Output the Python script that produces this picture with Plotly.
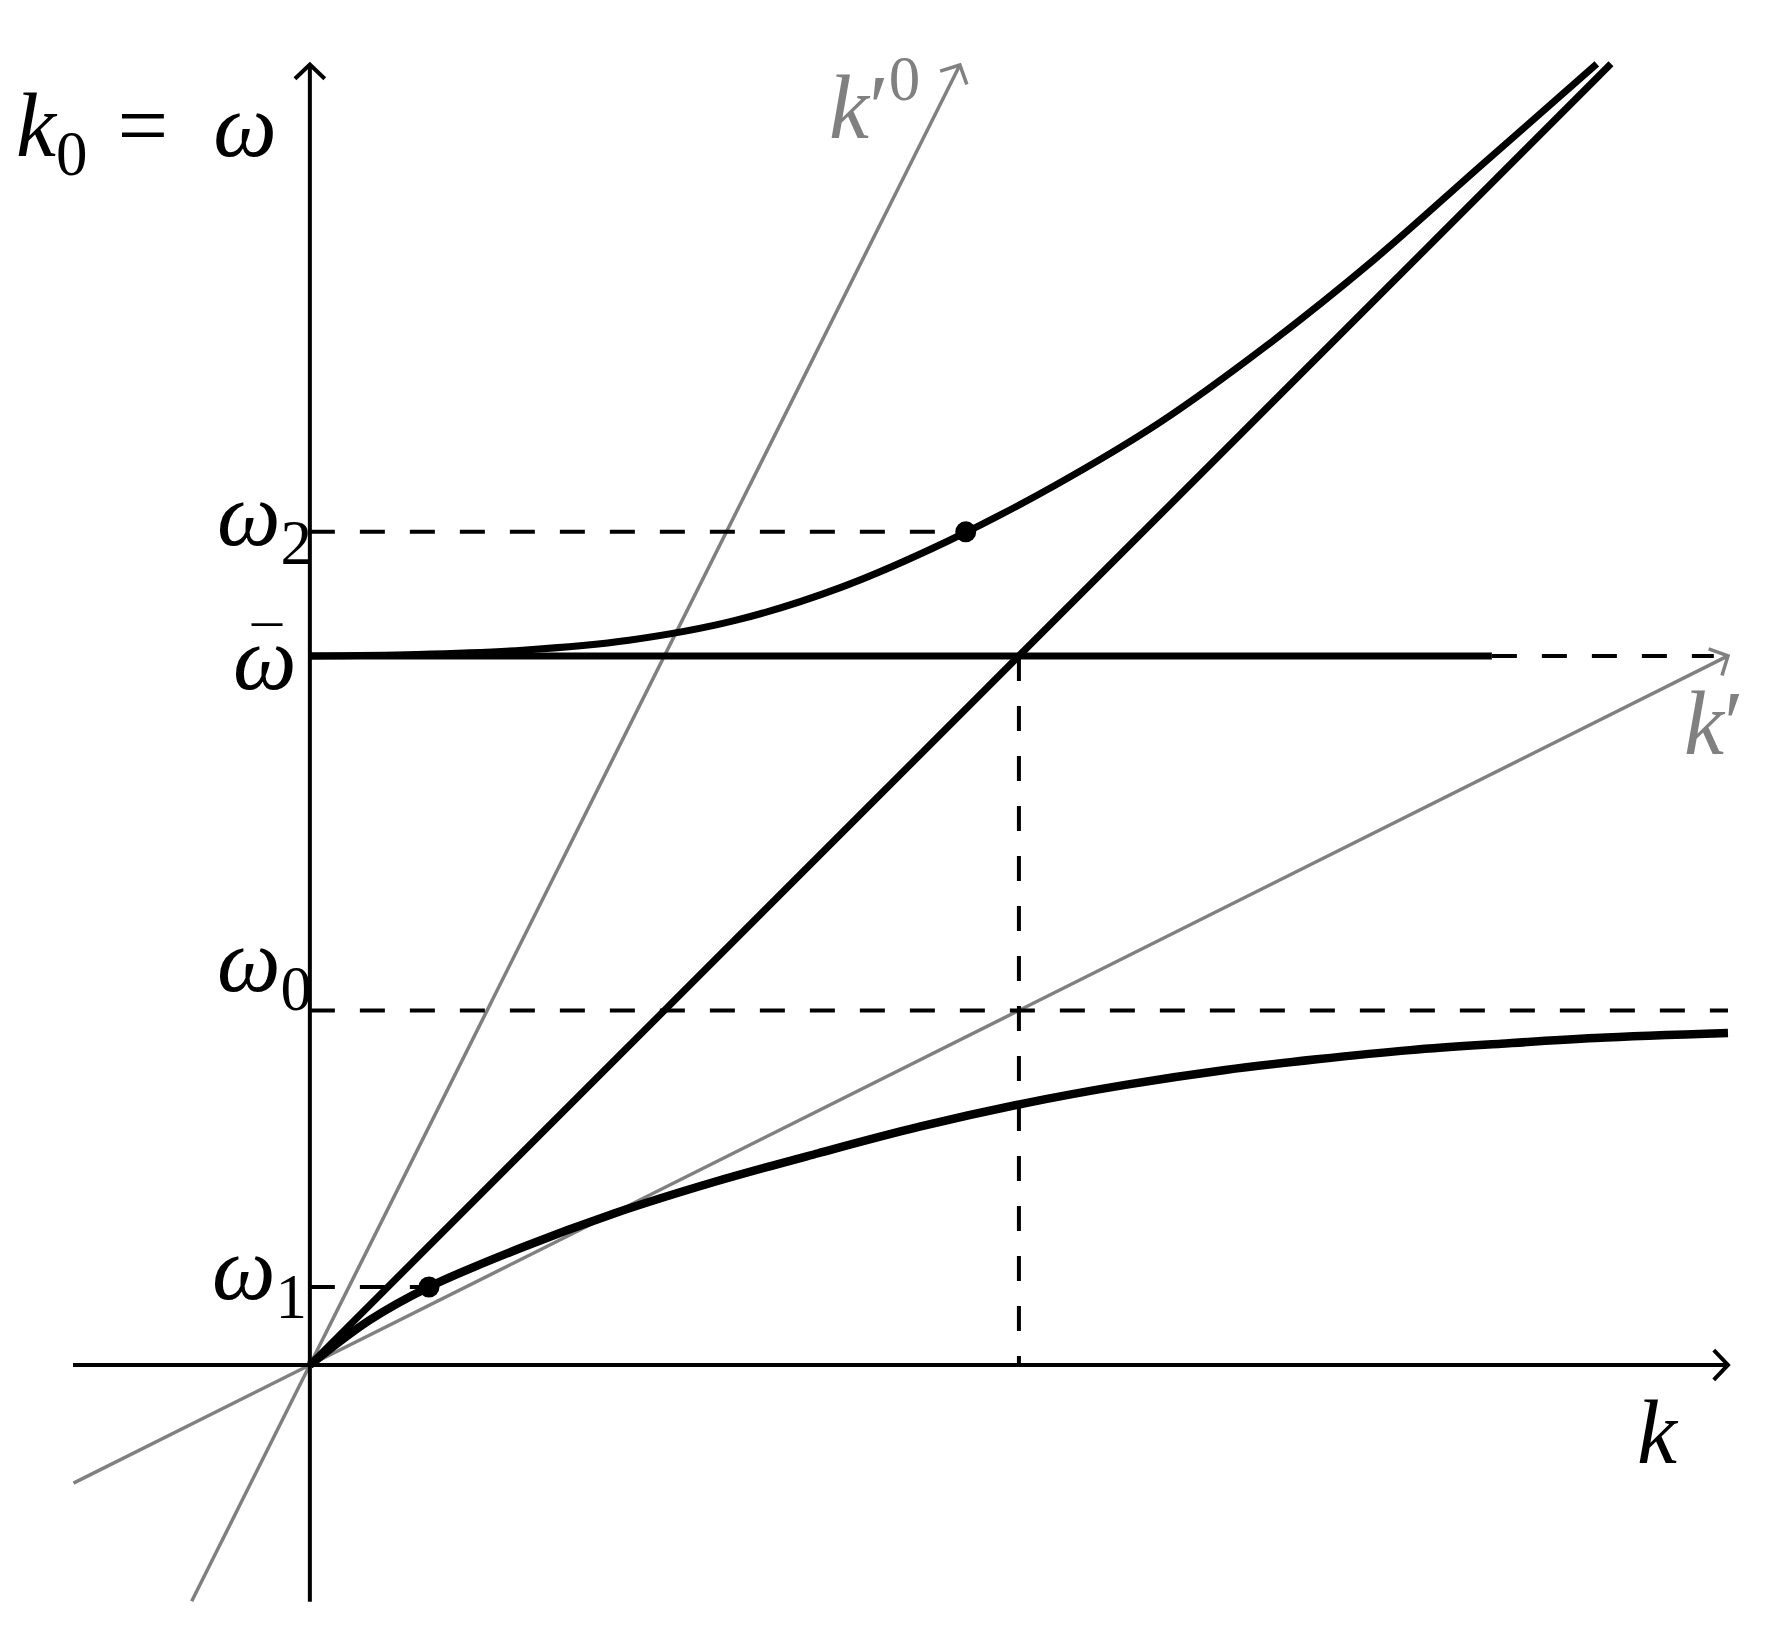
import numpy as np
import plotly.graph_objects as go

# curves (k, omega), light line crosses w_bar at k = 1
upper_k = [0.0, 0.15, 0.30, 0.45, 0.60, 0.75, 0.90, 1.05, 1.20, 1.35, 1.50, 1.65, 1.815]
upper_w = [1.0, 1.002, 1.008, 1.022, 1.050, 1.097, 1.162, 1.240, 1.330, 1.438, 1.558, 1.690, 1.835]

lower_k = [0.0, 0.084, 0.168, 0.30, 0.43, 0.57, 0.717, 0.86, 1.008, 1.15, 1.291, 1.42, 1.552, 1.68, 1.813, 2.0]
lower_w = [0.0, 0.063, 0.110, 0.166, 0.214, 0.258, 0.2986, 0.336, 0.369, 0.395, 0.416, 0.431, 0.444, 0.453, 0.461, 0.468]

w_bar = 1.0
w_0 = 0.5
w_1 = 0.110
w_2 = 1.175
k_1 = 0.168
k_2 = 0.925
k_cross = 1.0
w_bar_solid_end = 1.667
k_max = 2.0
ax_min = -0.334
w_top = 1.834
light_end = 1.835

kp_line_k = [-1 / 3, 2.0]          # k' axis, slope 1/2
kp_line_w = [-1 / 6, 1.0]
kp0_line_k = [-1 / 6, 0.9167]      # k'0 axis, slope 2
kp0_line_w = [-1 / 3, 1.8333]

BLACK = "black"
GRAY = "#808080"
FONT = "Liberation Serif"
FS = 90

# page body has an 8px margin, shift the ranges so the drawing lands in place
shift = 8 / 709

fig = go.Figure()


def line(xs, ys, color=BLACK, width=4, dash="solid", shape="linear"):
    fig.add_trace(go.Scatter(x=xs, y=ys, mode="lines", hoverinfo="skip",
                             line=dict(color=color, width=width, dash=dash, shape=shape, smoothing=1.0)))


def arrow_head(x0, y0, x1, y1, color=BLACK, width=4, back=0.02, half=0.021):
    d = np.array([x1 - x0, y1 - y0], dtype=float)
    d /= np.hypot(*d)
    n = np.array([-d[1], d[0]])
    tip = np.array([x1, y1])
    b1 = tip - back * d + half * n
    b2 = tip - back * d - half * n
    line([b1[0], tip[0], b2[0]], [b1[1], tip[1], b2[1]], color=color, width=width)


# gray boosted axes
line(kp_line_k, kp_line_w, GRAY, 3.5)
arrow_head(0, 0, kp_line_k[1], kp_line_w[1], GRAY, 3.5)
line(kp0_line_k, kp0_line_w, GRAY, 3.5)
arrow_head(0, 0, kp0_line_k[1], kp0_line_w[1], GRAY, 3.5)

# main axes
line([ax_min, k_max], [0, 0])
arrow_head(0, 0, k_max, 0)
line([0, 0], [ax_min, w_top])
arrow_head(0, 0, 0, w_top)

# dashed guides
line([0, k_2], [w_2, w_2], dash="25px,25px")
line([0, k_1], [w_1, w_1], dash="25px,25px")
line([0, k_max], [w_0, w_0], dash="25px,25px")
line([w_bar_solid_end, k_max - 0.02], [w_bar, w_bar], dash="25px,25px")
line([k_cross, k_cross], [w_bar, 0], dash="25px,25px")

# light line and flat mode
line([0, light_end], [0, light_end], width=7)
line([0, w_bar_solid_end], [w_bar, w_bar], width=7)

# polariton branches
line(upper_k, upper_w, width=7, shape="spline")
line(lower_k, lower_w, width=8.5, shape="spline")

fig.add_trace(go.Scatter(x=[k_2, k_1], y=[w_2, w_1], mode="markers", hoverinfo="skip",
                         marker=dict(color=BLACK, size=21)))


def label(text, x, y, xanchor="center", color=BLACK, size=FS):
    fig.add_annotation(x=x, y=y, text=text, showarrow=False, xanchor=xanchor, yanchor="middle",
                       font=dict(family=FONT, size=size, color=color))


label("<i>k</i><sub>0</sub>\u2004=\u2002<i>ω</i>", -0.417, 1.7377, xanchor="left")
label("<i>ω</i><sub>2</sub>", 0.0056, 1.190, xanchor="right")
label("<i>ω</i>", -0.0155, 0.997, xanchor="right")
label("¯", -0.06, 1.011, size=60)
label("<i>ω</i><sub>0</sub>", 0.0056, 0.560, xanchor="right")
label("<i>ω</i><sub>1</sub>", -0.0014, 0.1255, xanchor="right")
label("<i>k</i>", 1.901, -0.0959)
label("<i>k</i>′", 1.980, 0.904, color=GRAY)
label("<i>k</i>′<sup>0</sup>", 0.797, 1.783, color=GRAY)

fig.update_layout(
    width=1784, height=1632, autosize=False,
    margin=dict(l=0, r=0, t=0, b=0),
    paper_bgcolor="white", plot_bgcolor="white",
    showlegend=False,
    xaxis=dict(range=[-0.437 + shift, 2.079 + shift], visible=False, showgrid=False,
               zeroline=False, fixedrange=True),
    yaxis=dict(range=[-0.3766 - shift, 1.925 - shift], visible=False, showgrid=False,
               zeroline=False, fixedrange=True),
)

fig.write_html("out.html")
